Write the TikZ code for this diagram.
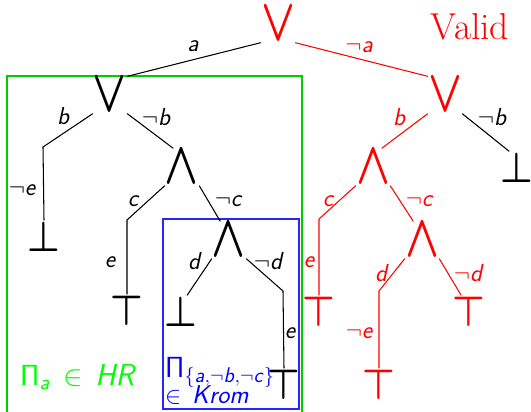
\documentclass[tikz,border=0pt]{standalone}
\usepackage{amsmath}
\usepackage{graphicx}
\usepackage{tikz}

\newcommand{\lit}[1]{\textsf{\textit{#1}}}
\newcommand{\gor}{\resizebox{1.02cm}{1.0cm}{$\boldsymbol{\vee}$}}
\newcommand{\gand}{\resizebox{1.02cm}{1.0cm}{$\boldsymbol{\wedge}$}}
\newcommand{\gtop}{\resizebox{0.98cm}{0.88cm}{$\boldsymbol{\top}$}}
\newcommand{\gbot}{\resizebox{0.98cm}{0.88cm}{$\boldsymbol{\bot}$}}

\begin{document}
\begin{tikzpicture}[x=0.03cm, y=-0.03cm,
        gate/.style={inner xsep=0pt, inner ysep=1.5pt},
        wire/.style={line width=0.9pt},
        lab/.style={font=\fontsize{21}{21}\selectfont\sffamily\itshape, inner sep=0pt},
        frame/.style={line width=1pt}
      ]
      \useasboundingbox (0,0) rectangle (531,411);

      % frames of the two sub-formulas
      \draw[frame, draw=green!80!black] (7,76) rectangle (302,415);
      \draw[frame, draw=blue!85] (163,219) rectangle (299,409);

      % gates
      \node[gate, text=red] (root) at (278,24) {\gor};
      \node[font=\fontsize{32}{32}\selectfont, text=red, inner sep=0pt] (valid) at (470,27) {Valid};
      \node[gate] (orA) at (110,95) {\gor};
      \node[gate, text=red] (orB) at (445,95) {\gor};
      \node[gate] (andA) at (182,167) {\gand};
      \node[gate] (andB) at (229,240) {\gand};
      \node[gate, text=red] (andC) at (373,167) {\gand};
      \node[gate, text=red] (andD) at (422,240) {\gand};

      % leaves
      \node[gate] (botA) at (44,237) {\gbot};
      \node[gate] (topA) at (127,311) {\gtop};
      \node[gate] (botB) at (181,312) {\gbot};
      \node[gate] (topB) at (284,385) {\gtop};
      \node[gate] (botC) at (517,168) {\gbot};
      \node[gate, text=red] (topC) at (319,312) {\gtop};
      \node[gate, text=red] (topD) at (379,385) {\gtop};
      \node[gate, text=red] (topE) at (469,312) {\gtop};

      % bends
      \coordinate (kb) at (43,147);
      \coordinate (kc) at (127,220);
      \coordinate (kd) at (283,291);
      \coordinate (kc2) at (319,219);
      \coordinate (kd2) at (379,291);

      % edges
      \draw[wire] (root.south west) -- (orA.north east);
      \draw[wire, red] (root.south east) -- (orB.north west);
      \draw[wire] (orA.south west) -- (kb) -- (botA.north);
      \draw[wire] (orA.south east) -- (andA.115);
      \draw[wire] (andA.south west) -- (kc) -- (topA.north);
      \draw[wire] (andA.south east) -- (andB.115);
      \draw[wire] (andB.south west) -- (botB.70);
      \draw[wire] (andB.south east) -- (kd) -- (topB.north);
      \draw[wire, red] (orB.south west) -- (andC.65);
      \draw[wire] (orB.south east) -- (botC.115);
      \draw[wire, red] (andC.south west) -- (kc2) -- (topC.north);
      \draw[wire, red] (andC.south east) -- (andD.115);
      \draw[wire, red] (andD.south west) -- (kd2) -- (topD.north);
      \draw[wire, red] (andD.south east) -- (topE.115);

      % edge labels
      \node[lab] (la) at (193,46) {a};
      \node[lab, red] (lna) at (359,47) {$\neg$a};
      \node[lab] (lb) at (63,116) {b};
      \node[lab] (lnb) at (156,117) {$\neg$b};
      \node[lab] (lne) at (22,190) {$\neg$e};
      \node[lab] (lc) at (133,201) {c};
      \node[lab] (lnc) at (228,201) {$\neg$c};
      \node[lab] (le) at (110,262) {e};
      \node[lab] (ld) at (194,261) {d};
      \node[lab] (lnd) at (268,261) {$\neg$d};
      \node[lab] (le2) at (290,333) {e};
      \node[lab, red] (rb) at (399,117) {b};
      \node[lab] (rnb) at (492,117) {$\neg$b};
      \node[lab, red] (rc) at (328,201) {c};
      \node[lab, red] (rnc) at (419,201) {$\neg$c};
      \node[lab, red] (re) at (309,262) {e};
      \node[lab, red] (rd) at (381,273) {d};
      \node[lab, red] (rnd) at (468,273) {$\neg$d};
      \node[lab, red] (rne) at (359,333) {$\neg$e};

      % classes
      \node[anchor=base west, inner sep=0pt, text=green, font=\fontsize{26}{26}\selectfont] (hr) at (20,385)
        {$\mathsf{\Pi}_{\lit{a}} \,\in\, \lit{HR}$};
      \node[anchor=base west, inner sep=0pt, text=blue, font=\fontsize{26}{26}\selectfont] (pi) at (165,377)
        {$\mathsf{\Pi}_{\{\lit{a},\neg\lit{b},\neg\lit{c}\}}$};
      \node[anchor=base west, inner sep=0pt, text=blue, font=\fontsize{22}{22}\selectfont] (krom) at (165,403)
        {$\in\, \lit{Krom}$};
    \end{tikzpicture}
\end{document}
